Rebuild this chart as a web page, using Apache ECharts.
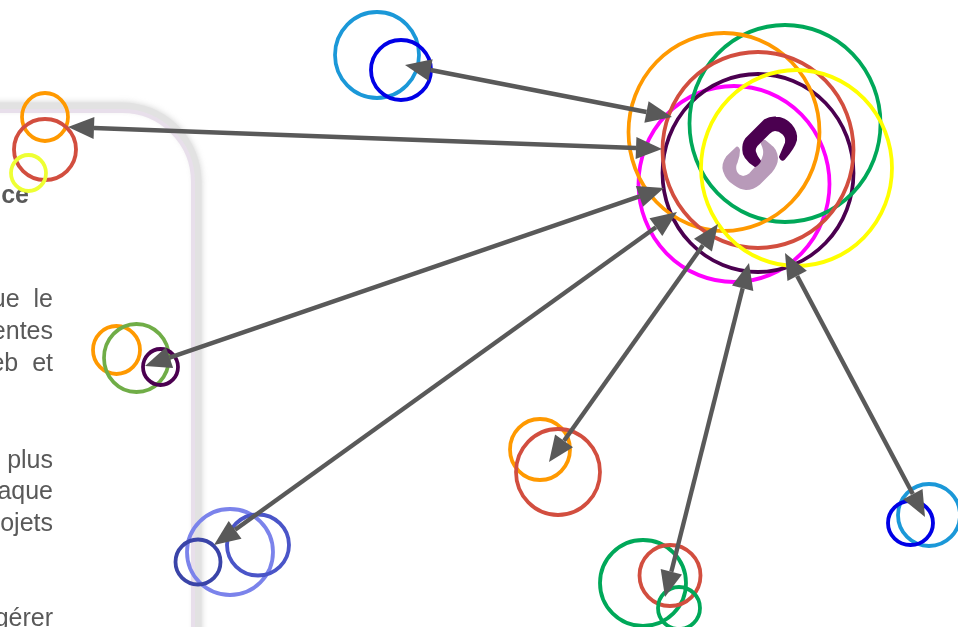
<!DOCTYPE html>
<html>
<head>
<meta charset="utf-8">
<script src="https://cdn.jsdelivr.net/npm/echarts@6/dist/echarts.min.js"></script>
<style>html,body{margin:0;padding:0;background:#fff}#c{width:958px;height:627px}</style>
</head>
<body>
<div id="c"></div>
<script>
// Circle nodes (centre and extent, in picture units)
var nodeX = [377,401, 734,758,785,724,758,796.5, 45,45,28.5, 116.5,136.5,160.5, 230,258,198, 540,558, 643,670,679, 929,910.5];
var nodeY = [55,70, 184,173,123.5,132,150,168, 117,149.5,173, 350,358,367, 552,545,562, 449.5,472, 583,575.5,608, 515,523];
var nodeW = [84,60, 191,191,191,191,191,191, 46,62,35, 47,65,35, 86,62,45, 60,84, 86,61,42, 62,45];
var nodeH = [86,60, 196,198,197,198,196,196, 48,61,36, 48,68,36, 86,61,45, 61,86, 86,61,42, 62,44];
var nodeTone = ['sky','blue','magenta','plum','jade','amber','brick','yellow','amber','brick','lime','amber','leaf','plum','periwinkle','indigo','navy','amber','brick','jade','brick','jade','sky','blue'];
// Double-headed links between nodes
var linkFromX = [405,68,145,214,549,665,785];
var linkFromY = [65,127,366,545,462,597,253];
var linkToX = [672,662,664,677,718,749,925];
var linkToY = [117,149,188,212,224,263,517];
// Fragments of the page text behind the diagram
var paragraphLines = ['ue  le','entes','eb  et','plus','aque','ojets','gérer'];
var paragraphTop = [288,320,352,449,480,512,607];

var tones = {sky:'#1b98d8',blue:'#0000e6',magenta:'#ff00ff',plum:'#4b0050',jade:'#00a859',amber:'#ff9900',brick:'#d24e3f',yellow:'#ffff00',lime:'#eeff33',leaf:'#70ad47',periwinkle:'#7b83eb',indigo:'#4a55c8',navy:'#3a44a8'};
var ink = '#595959';
var ringData = nodeX.map(function(x,i){
  return {value:[x,nodeY[i],nodeW[i],nodeH[i]],itemStyle:{color:'rgba(0,0,0,0)',borderColor:tones[nodeTone[i]],borderWidth:3.8,opacity:1}};
});
var linkData = linkFromX.map(function(x,i){return [x,linkFromY[i],linkToX[i],linkToY[i]];});
var headLen=26, headHalf=11;
function head(tip,tail){
  var dx=tip[0]-tail[0],dy=tip[1]-tail[1],L=Math.sqrt(dx*dx+dy*dy)||1,ux=dx/L,uy=dy/L;
  var bx=tip[0]-ux*headLen,by=tip[1]-uy*headLen;
  return {pts:[tip,[bx-uy*headHalf,by+ux*headHalf],[bx+uy*headHalf,by-ux*headHalf]],base:[bx,by]};
}
function renderLink(params,api){
  var a=api.coord([api.value(0),api.value(1)]),b=api.coord([api.value(2),api.value(3)]);
  var ha=head(a,b),hb=head(b,a);
  return {type:'group',children:[
    {type:'line',shape:{x1:ha.base[0],y1:ha.base[1],x2:hb.base[0],y2:hb.base[1]},style:{stroke:ink,lineWidth:4.4}},
    {type:'polygon',shape:{points:ha.pts},style:{fill:ink}},
    {type:'polygon',shape:{points:hb.pts},style:{fill:ink}}
  ]};
}
function strokePath(d,stroke,width,extra){
  var style={fill:null,stroke:stroke,lineWidth:width,lineCap:'round'};
  for(var k in (extra||{})) style[k]=extra[k];
  return {type:'path',shape:{pathData:d},style:style};
}
function fillPath(d,fill){
  return {type:'path',shape:{pathData:d},style:{fill:fill,stroke:fill,lineWidth:2,lineJoin:'round'}};
}
function renderDecor(){
  return {type:'group',children:[
    strokePath('M-10 106H122A76 76 0 0 1 198 182V640','#e2e2e2',7,{shadowBlur:6,shadowColor:'rgba(190,190,190,0.7)'}),
    strokePath('M-10 111H122A71 71 0 0 1 193 182V640','#e8dfeb',4),
    fillPath('M736.7 147.7L727 157Q722 164 724 171Q727 180 734 184Q741 189 746 189Q753 189 759 184L771 172Q777 165 777 158Q776 149 771 146L765 141Q762 140 761.7 143.3Q765 150 764 155Q763 160 760 163L750 174Q746 177 743 177Q738 176 736 172Q734 167 736.7 162Q739 156 739 150Q738 147 736.7 147.7Z','#b89ab9'),
    fillPath('M755 166Q743 158 743.3 150Q743 143 746 139L765 120Q770 117 776 117.5Q785 118 791 125Q797 132 796 140Q794 148 784 159Q782 161 780 157L786 143Q787 137 783 133.5Q779 130 775 130Q772 130 769 133L757 145Q754 149 755 152Q756 156 760 161Q759 164 755 166Z','#4b0050')
  ]};
}
var graphics = [
  {type:'text',z:1,x:29,y:184,style:{text:'ce',fill:ink,font:'bold 25px "Liberation Sans"',align:'right',verticalAlign:'top'}}
];
paragraphLines.forEach(function(t,i){
  graphics.push({type:'text',z:1,x:53,y:paragraphTop[i],style:{text:t,fill:ink,font:'25px "Liberation Sans"',align:'right',verticalAlign:'top'}});
});
var chart = echarts.init(document.getElementById('c'),null,{renderer:'canvas'});
chart.setOption({
  animation:false,
  backgroundColor:'#ffffff',
  grid:{left:0,right:0,top:0,bottom:0},
  xAxis:{type:'value',min:0,max:958,show:false},
  yAxis:{type:'value',min:0,max:627,inverse:true,show:false},
  tooltip:{show:false},
  graphic:{elements:graphics},
  series:[
    {type:'custom',z:0,coordinateSystem:'none',renderItem:renderDecor,data:[0],silent:true},
    {type:'scatter',z:3,clip:false,symbol:'path://M0 100A100 100 0 1 1 200 100A100 100 0 1 1 0 100Z',
     symbolSize:function(v){return [v[2],v[3]];},encode:{x:0,y:1},data:ringData,silent:true},
    {type:'custom',z:4,clip:false,renderItem:renderLink,encode:{x:[0,2],y:[1,3]},data:linkData,silent:true}
  ]
});
</script>
</body>
</html>
